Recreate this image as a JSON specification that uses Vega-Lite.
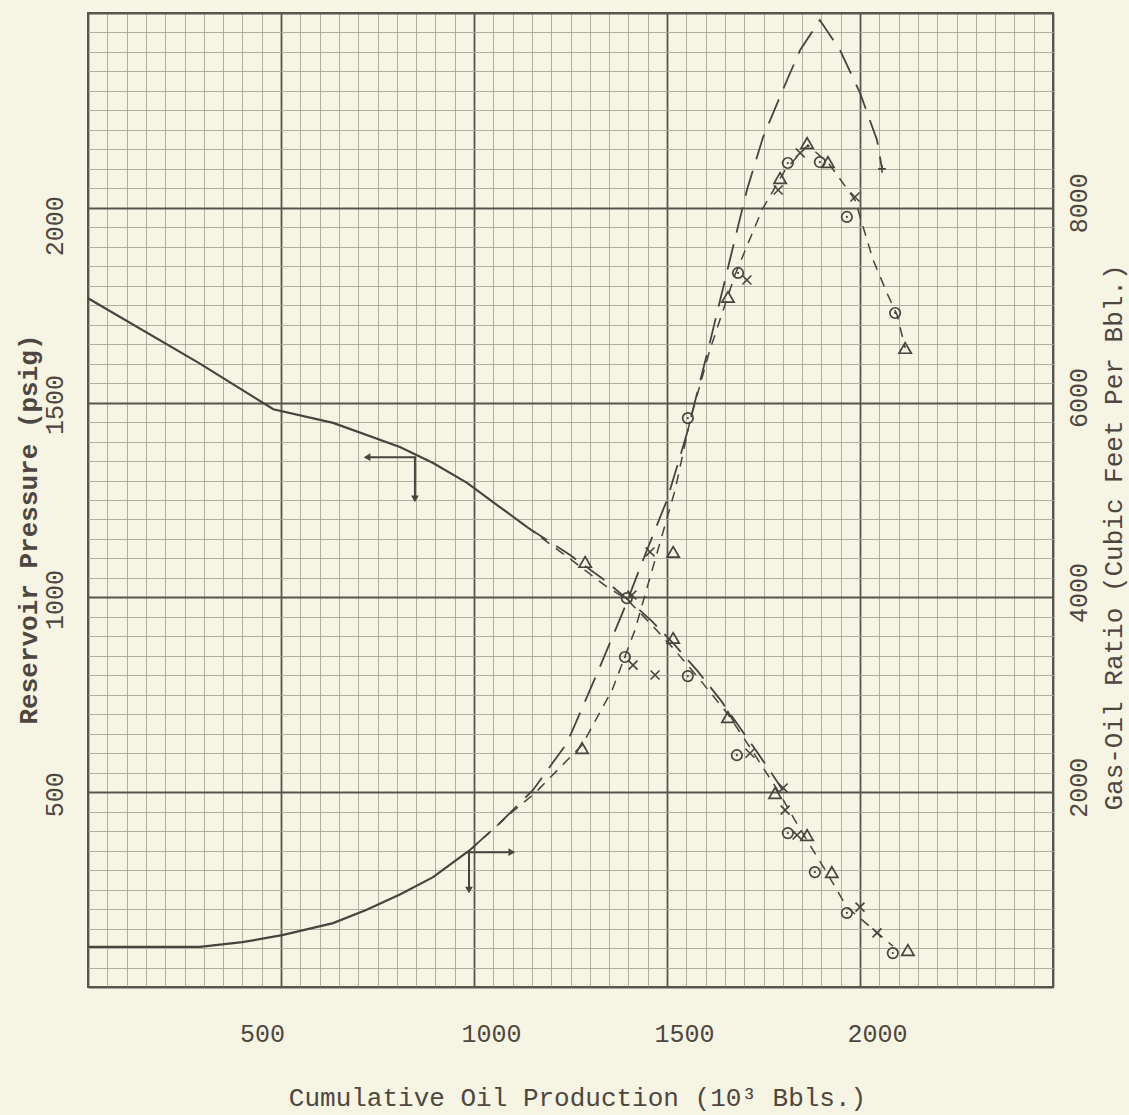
{
  "$schema": "https://vega.github.io/schema/vega-lite/v6.json",
  "width": 965,
  "height": 974,
  "autosize": {"type": "none"},
  "padding": {"left": 88, "top": 13, "right": 76, "bottom": 128},
  "background": "#f6f4e3",
  "config": {
    "view": {"stroke": "#5a544e", "strokeWidth": 2, "fill": "#f6f4e3"},
    "font": "Liberation Mono"
  },
  "datasets": {
    "pSolid": [
      {"x": 0, "p": 1768}, {"x": 290, "p": 1600}, {"x": 480, "p": 1483}, {"x": 635, "p": 1448},
      {"x": 808, "p": 1386}, {"x": 894, "p": 1345}, {"x": 982, "p": 1294}, {"x": 1067, "p": 1232}, {"x": 1137, "p": 1181}
    ],
    "pLong": [
      {"x": 1137, "p": 1181}, {"x": 1250, "p": 1108}, {"x": 1340, "p": 1043}, {"x": 1400, "p": 993},
      {"x": 1460, "p": 940}, {"x": 1520, "p": 878}, {"x": 1580, "p": 810}, {"x": 1640, "p": 735},
      {"x": 1700, "p": 650}, {"x": 1760, "p": 565}, {"x": 1800, "p": 505}
    ],
    "pShort": [
      {"x": 1137, "p": 1181}, {"x": 1250, "p": 1098}, {"x": 1340, "p": 1030}, {"x": 1396, "p": 995},
      {"x": 1460, "p": 930}, {"x": 1520, "p": 865}, {"x": 1580, "p": 795}, {"x": 1658, "p": 700},
      {"x": 1715, "p": 615}, {"x": 1790, "p": 500}, {"x": 1830, "p": 430}, {"x": 1870, "p": 365},
      {"x": 1910, "p": 300}, {"x": 1966, "p": 205}, {"x": 2044, "p": 140}, {"x": 2085, "p": 105}
    ],
    "pTri": [
      {"x": 1288, "p": 1091}, {"x": 1516, "p": 896}, {"x": 1658, "p": 693}, {"x": 1780, "p": 498},
      {"x": 1863, "p": 390}, {"x": 1927, "p": 295}, {"x": 2124, "p": 95}
    ],
    "pCirc": [
      {"x": 1396, "p": 998}, {"x": 1554, "p": 798}, {"x": 1681, "p": 595}, {"x": 1813, "p": 395},
      {"x": 1883, "p": 295}, {"x": 1966, "p": 190}, {"x": 2085, "p": 87}
    ],
    "pX": [
      {"x": 1409, "p": 1006}, {"x": 1715, "p": 600}, {"x": 1801, "p": 511}, {"x": 1806, "p": 454},
      {"x": 1837, "p": 390}, {"x": 2000, "p": 205}, {"x": 2044, "p": 139}
    ],
    "arrowH": [
      {"x": 723, "x2": 850, "p": 1360},
      {"x": 982, "x2": 1098, "p": 346}
    ],
    "arrowV": [
      {"x": 847, "p": 1360, "p2": 1253},
      {"x": 987, "p": 346, "p2": 249}
    ],
    "heads": [
      {"x": 723, "p": 1360, "dir": "left"},
      {"x": 847, "p": 1253, "dir": "down"},
      {"x": 1098, "p": 346, "dir": "right"},
      {"x": 987, "p": 249, "dir": "down"}
    ],
    "gSolid": [
      {"x": 0, "g": 412}, {"x": 153, "g": 412}, {"x": 290, "g": 412}, {"x": 400, "g": 460}, {"x": 503, "g": 532},
      {"x": 635, "g": 656}, {"x": 722, "g": 792}, {"x": 808, "g": 950}, {"x": 894, "g": 1128}, {"x": 990, "g": 1408}
    ],
    "gLong": [
      {"x": 990, "g": 1408}, {"x": 1067, "g": 1684}, {"x": 1153, "g": 2023}, {"x": 1241, "g": 2505},
      {"x": 1326, "g": 3285}, {"x": 1391, "g": 3901}, {"x": 1443, "g": 4435}, {"x": 1500, "g": 5000},
      {"x": 1552, "g": 5687}, {"x": 1610, "g": 6600}, {"x": 1671, "g": 7597}, {"x": 1707, "g": 8183},
      {"x": 1749, "g": 8727}, {"x": 1811, "g": 9312}, {"x": 1845, "g": 9620}, {"x": 1896, "g": 9928},
      {"x": 1948, "g": 9620}, {"x": 2000, "g": 9180}, {"x": 2044, "g": 8696}, {"x": 2057, "g": 8400}
    ],
    "gShort": [
      {"x": 990, "g": 1408}, {"x": 1100, "g": 1800}, {"x": 1158, "g": 1991}, {"x": 1280, "g": 2485},
      {"x": 1358, "g": 3049}, {"x": 1417, "g": 3665}, {"x": 1469, "g": 4384}, {"x": 1521, "g": 5103},
      {"x": 1560, "g": 5821}, {"x": 1611, "g": 6540}, {"x": 1676, "g": 7310}, {"x": 1746, "g": 7977},
      {"x": 1806, "g": 8388}, {"x": 1865, "g": 8645}, {"x": 1922, "g": 8440}, {"x": 1987, "g": 8081},
      {"x": 2034, "g": 7464}, {"x": 2070, "g": 7124}, {"x": 2096, "g": 6900}, {"x": 2117, "g": 6561}
    ],
    "gTri": [
      {"x": 1280, "g": 2453}, {"x": 1516, "g": 4467}, {"x": 1658, "g": 7085}, {"x": 1793, "g": 8306},
      {"x": 1863, "g": 8665}, {"x": 1917, "g": 8470}, {"x": 2117, "g": 6561}
    ],
    "gCirc": [
      {"x": 1391, "g": 3388}, {"x": 1554, "g": 5841}, {"x": 1684, "g": 7331}, {"x": 1813, "g": 8460},
      {"x": 1896, "g": 8470}, {"x": 1966, "g": 7906}, {"x": 2091, "g": 6920}
    ],
    "gX": [
      {"x": 1412, "g": 3305}, {"x": 1469, "g": 3203}, {"x": 1456, "g": 4467}, {"x": 1707, "g": 7259},
      {"x": 1788, "g": 8183}, {"x": 1845, "g": 8563}, {"x": 1987, "g": 8111}
    ],
    "gPlus": [
      {"x": 2057, "g": 8400}
    ]
  },
  "encoding": {
    "x": {
      "field": "x",
      "type": "quantitative",
      "scale": {"domain": [0, 2500], "nice": false, "zero": false},
      "axis": {
        "title": "Cumulative Oil Production (10³ Bbls.)",
        "values": [0,50,100,150,200,250,300,350,400,450,500,550,600,650,700,750,800,850,900,950,1000,1050,1100,1150,1200,1250,1300,1350,1400,1450,1500,1550,1600,1650,1700,1750,1800,1850,1900,1950,2000,2050,2100,2150,2200,2250,2300,2350,2400,2450,2500],
        "labelExpr": "(datum.value % 500 === 0 && datum.value > 0 && datum.value < 2500) ? format(datum.value, 'd') : ''",
        "labelOverlap": false,
        "labelFlush": false,
        "labelFont": "Liberation Mono",
        "labelFontSize": 25,
        "labelColor": "#4e4640",
        "labelBaseline": "middle",
        "labelAlign": "center",
        "labelPadding": 46,
        "labelOffset": {"condition": {"test": "datum.value === 500", "value": -19}, "value": 17},
        "ticks": false,
        "tickSize": 0,
        "domain": false,
        "grid": true,
        "gridColor": {"condition": {"test": "datum.value % 500 === 0", "value": "#5a544e"}, "value": "#aba698"},
        "gridWidth": {"condition": {"test": "datum.value % 500 === 0", "value": 1.8}, "value": 0.9},
        "titleFont": "Liberation Mono",
        "titleFontSize": 26,
        "titleFontWeight": "normal",
        "titleColor": "#4e4640",
        "titleX": 489,
        "titleY": 110,
        "titleAlign": "center",
        "titleBaseline": "middle"
      }
    }
  },
  "layer": [
    {
      "encoding": {
        "y": {
          "field": "p",
          "type": "quantitative",
          "scale": {"domain": [0, 2500], "nice": false, "zero": false},
          "axis": {
            "orient": "left",
            "title": "Reservoir Pressure (psig)",
            "values": [0,50,100,150,200,250,300,350,400,450,500,550,600,650,700,750,800,850,900,950,1000,1050,1100,1150,1200,1250,1300,1350,1400,1450,1500,1550,1600,1650,1700,1750,1800,1850,1900,1950,2000,2050,2100,2150,2200,2250,2300,2350,2400,2450,2500],
            "labelExpr": "(datum.value % 500 === 0 && datum.value > 0 && datum.value < 2500) ? format(datum.value, 'd') : ''",
            "labelOverlap": false,
            "labelFlush": false,
            "labelFont": "Liberation Mono",
            "labelFontSize": 25,
            "labelColor": "#4e4640",
            "labelAngle": 270,
            "labelAlign": "center",
            "labelBaseline": "middle",
            "labelPadding": 34,
            "labelOffset": {"condition": {"test": "datum.value === 2000", "value": 18}, "value": 2},
            "ticks": false,
            "tickSize": 0,
            "domain": false,
            "grid": true,
            "gridColor": {"condition": {"test": "datum.value % 500 === 0", "value": "#5a544e"}, "value": "#aba698"},
            "gridWidth": {"condition": {"test": "datum.value % 500 === 0", "value": 1.8}, "value": 0.9},
            "titleFont": "Liberation Mono",
            "titleFontSize": 26,
            "titleFontWeight": "bold",
            "titleColor": "#4e4640",
            "titleAngle": 270,
            "titleX": -60,
            "titleY": 516,
            "titleAlign": "center",
            "titleBaseline": "middle"
          }
        }
      },
      "layer": [
        {"data": {"name": "pSolid"}, "mark": {"type": "line", "color": "#48433f", "strokeWidth": 2.2}, "encoding": {}},
        {"data": {"name": "pLong"}, "mark": {"type": "line", "color": "#48433f", "strokeWidth": 1.8, "strokeDash": [24, 11]}, "encoding": {}},
        {"data": {"name": "pShort"}, "mark": {"type": "line", "color": "#48433f", "strokeWidth": 1.5, "strokeDash": [10, 8]}, "encoding": {}},
        {"data": {"name": "pTri"}, "mark": {"type": "point", "shape": "triangle-up", "filled": false, "size": 150, "color": "#48433f", "strokeWidth": 1.7, "opacity": 1}, "encoding": {}},
        {"data": {"name": "pCirc"}, "mark": {"type": "point", "shape": "circle", "filled": false, "size": 110, "color": "#48433f", "strokeWidth": 1.7, "opacity": 1}, "encoding": {}},
        {"data": {"name": "pCirc"}, "mark": {"type": "point", "shape": "circle", "filled": true, "size": 5, "color": "#48433f", "opacity": 1}, "encoding": {}},
        {"data": {"name": "pX"}, "mark": {"type": "point", "shape": "M-1,-1L1,1M-1,1L1,-1", "filled": false, "size": 80, "color": "#48433f", "strokeWidth": 1.6, "opacity": 1}, "encoding": {}},
        {"data": {"name": "arrowH"}, "mark": {"type": "rule", "color": "#48433f", "strokeWidth": 2}, "encoding": {"x2": {"field": "x2"}}},
        {"data": {"name": "arrowV"}, "mark": {"type": "rule", "color": "#48433f", "strokeWidth": 2}, "encoding": {"y2": {"field": "p2"}}},
        {"data": {"name": "heads"}, "mark": {"type": "point", "filled": true, "size": 60, "color": "#48433f", "opacity": 1},
         "encoding": {"shape": {"field": "dir", "type": "nominal", "scale": {"domain": ["left", "right", "down"], "range": ["triangle-left", "triangle-right", "triangle-down"]}, "legend": null}}}
      ]
    },
    {
      "encoding": {
        "y": {
          "field": "g",
          "type": "quantitative",
          "scale": {"domain": [0, 10000], "nice": false, "zero": false},
          "axis": {
            "orient": "right",
            "title": "Gas-Oil Ratio (Cubic Feet Per Bbl.)",
            "values": [2000, 4000, 6000, 8000],
            "format": "d",
            "labelOverlap": false,
            "labelFlush": false,
            "labelFont": "Liberation Mono",
            "labelFontSize": 25,
            "labelColor": "#4e4640",
            "labelAngle": 270,
            "labelAlign": "center",
            "labelBaseline": "middle",
            "labelPadding": 25,
            "labelOffset": -5,
            "ticks": false,
            "tickSize": 0,
            "domain": false,
            "grid": false,
            "titleFont": "Liberation Mono",
            "titleFontSize": 26,
            "titleFontWeight": "normal",
            "titleColor": "#4e4640",
            "titleAngle": 270,
            "titleX": 60,
            "titleY": 524,
            "titleAlign": "center",
            "titleBaseline": "middle"
          }
        }
      },
      "layer": [
        {"data": {"name": "gSolid"}, "mark": {"type": "line", "color": "#48433f", "strokeWidth": 2.2}, "encoding": {}},
        {"data": {"name": "gLong"}, "mark": {"type": "line", "color": "#48433f", "strokeWidth": 1.8, "strokeDash": [26, 12]}, "encoding": {}},
        {"data": {"name": "gShort"}, "mark": {"type": "line", "color": "#48433f", "strokeWidth": 1.5, "strokeDash": [10, 8]}, "encoding": {}},
        {"data": {"name": "gTri"}, "mark": {"type": "point", "shape": "triangle-up", "filled": false, "size": 150, "color": "#48433f", "strokeWidth": 1.7, "opacity": 1}, "encoding": {}},
        {"data": {"name": "gCirc"}, "mark": {"type": "point", "shape": "circle", "filled": false, "size": 110, "color": "#48433f", "strokeWidth": 1.7, "opacity": 1}, "encoding": {}},
        {"data": {"name": "gCirc"}, "mark": {"type": "point", "shape": "circle", "filled": true, "size": 5, "color": "#48433f", "opacity": 1}, "encoding": {}},
        {"data": {"name": "gX"}, "mark": {"type": "point", "shape": "M-1,-1L1,1M-1,1L1,-1", "filled": false, "size": 80, "color": "#48433f", "strokeWidth": 1.6, "opacity": 1}, "encoding": {}},
        {"data": {"name": "gPlus"}, "mark": {"type": "point", "shape": "M-1,0L1,0M0,-1L0,1", "filled": false, "size": 60, "color": "#48433f", "strokeWidth": 1.6, "opacity": 1}, "encoding": {}}
      ]
    }
  ],
  "resolve": {"scale": {"y": "independent"}, "axis": {"y": "independent"}}
}
